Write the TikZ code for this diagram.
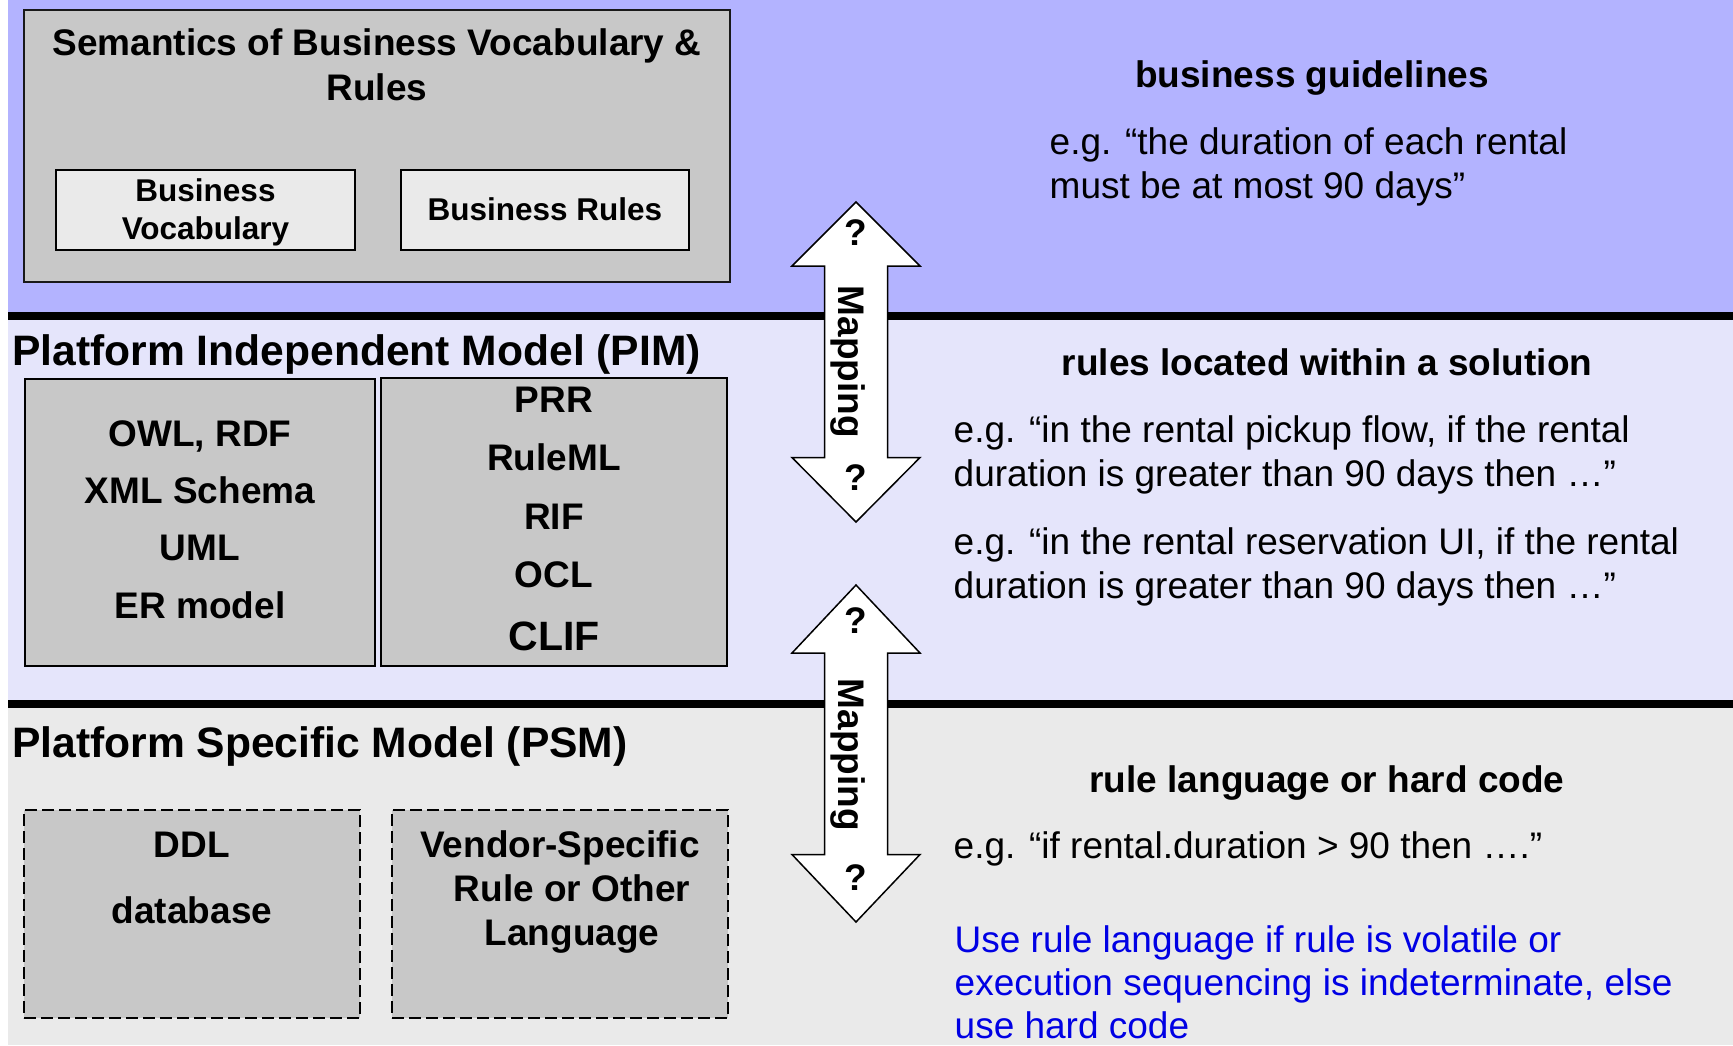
\documentclass[tikz,border=0pt]{standalone}
\usepackage{fontspec}
\setmainfont{Liberation Sans}
\definecolor{topband}{RGB}{179,179,255}
\definecolor{midband}{RGB}{229,229,251}
\definecolor{botband}{RGB}{234,234,234}
\definecolor{boxgrey}{RGB}{200,200,200}
\definecolor{boxlight}{RGB}{234,234,234}
\definecolor{advice}{RGB}{0,0,228}
\newcommand\mappingarrow[4]{% top tip, top head base, bottom head base, bottom tip
  \draw[arrowshape] (856,#1) -- (920,#2) -- (887.5,#2) -- (887.5,#3) -- (920,#3)
    -- (856,#4) -- (792,#3) -- (824.5,#3) -- (824.5,#2) -- (792,#2) -- cycle;}
% multi-line text nodes are placed by the baseline of their last line
\tikzset{
  greybox/.style={draw=black!90, line width=1.5pt, fill=boxgrey, inner sep=0pt},
  lightbox/.style={draw=black, line width=1.5pt, fill=boxlight, inner sep=0pt},
  dashbox/.style={draw=black, line width=1.5pt, fill=boxgrey, dash pattern=on 12pt off 5pt, inner sep=0pt},
  arrowshape/.style={draw=black, line width=1.5pt, fill=white, line join=miter},
  heading/.style={inner sep=0pt, anchor=base west, font=\fontsize{42.6}{50}\selectfont\bfseries},
  boldtext/.style={inner sep=0pt, anchor=base, align=center, font=\fontsize{37}{45}\selectfont\bfseries},
  plaintext/.style={inner sep=0pt, anchor=base west, align=left, font=\fontsize{37}{44}\selectfont},
  qmark/.style={inner sep=0pt, font=\fontsize{37}{44}\selectfont\bfseries},
  maplabel/.style={inner sep=0pt, rotate=-90, font=\fontsize{37}{44}\selectfont\bfseries}
}
\begin{document}
\begin{tikzpicture}[x=1pt,y=-1pt]
\useasboundingbox (0,0) rectangle (1733,1045);
\fill[white] (0,0) rectangle (1733,1045);

% the three layers and their separating rules
\fill[topband] (8,0) rectangle (1733,312);
\fill[midband] (8,320) rectangle (1733,700);
\fill[botband] (8,708) rectangle (1733,1045);
\fill[black] (8,312) rectangle (1733,320);
\fill[black] (8,700) rectangle (1733,708);

% business layer
\node[greybox, minimum width=706pt, minimum height=272pt] (sem) at (377,146) {};
\node[boldtext] (semtitle) at (377,100) {Semantics of Business Vocabulary \&\\Rules};
\node[lightbox, minimum width=299pt, minimum height=80pt] (vocab) at (205.5,210) {};
\node[lightbox, minimum width=288pt, minimum height=80pt] (rules) at (545,210) {};
\node[boldtext, font=\fontsize{31.5}{38}\selectfont\bfseries] (vocabtext) at (205.5,239.5) {Business\\Vocabulary};
\node[boldtext, font=\fontsize{31.5}{38}\selectfont\bfseries] (rulestext) at (545,220) {Business Rules};

\node[boldtext] (guidehead) at (1312,87) {business guidelines};
\node[plaintext] (guideex) at (1049.5,198) {e.g. “the duration of each rental\\must be at most 90 days”};

% platform independent layer
\node[heading] (pimhead) at (12,365) {Platform Independent Model (PIM)};
\node[greybox, draw=black, minimum width=350pt, minimum height=287pt] (pimleft) at (200,522.5) {};
\node[greybox, draw=black, minimum width=346pt, minimum height=288pt] (pimright) at (554,522) {};
\node[boldtext, font=\fontsize{37}{57.3}\selectfont\bfseries] (pimlefttext) at (200,618)
  {OWL, RDF\\XML Schema\\UML\\ER model};
\node[boldtext, font=\fontsize{37}{58.5}\selectfont\bfseries] (pimrighttext) at (554,650)
  {PRR\\RuleML\\RIF\\OCL\\[4pt]{\fontsize{41}{58.5}\selectfont CLIF}};

\node[boldtext] (solhead) at (1327,375) {rules located within a solution};
\node[plaintext] (solex1) at (953.5,486) {e.g. “in the rental pickup flow, if the rental\\duration is greater than 90 days then …”};
\node[plaintext] (solex2) at (953.5,598) {e.g. “in the rental reservation UI, if the rental\\duration is greater than 90 days then …”};

% platform specific layer
\node[heading] (psmhead) at (12,757) {Platform Specific Model (PSM)};
\node[dashbox, minimum width=336pt, minimum height=208pt] (psmleft) at (192,914) {};
\node[dashbox, minimum width=336pt, minimum height=208pt] (psmright) at (560,914) {};
\node[boldtext, font=\fontsize{37}{66}\selectfont\bfseries] (psmlefttext) at (192,923) {DDL\\database};
\node[boldtext, font=\fontsize{37}{44}\selectfont\bfseries] (psmrighttext) at (560,945)
  {Vendor-Specific\\\hspace*{24pt}Rule or Other\\\hspace*{24pt}Language};

\node[boldtext] (codehead) at (1327,792) {rule language or hard code};
\node[plaintext] (codeex) at (953.5,858) {e.g. “if rental.duration > 90 then ….”};
\node[plaintext, text=advice, font=\fontsize{37}{43}\selectfont] (advicetext) at (954.5,1038)
  {Use rule language if rule is volatile or\\execution sequencing is indeterminate, else\\use hard code};

% mapping arrows between the layers
\mappingarrow{202}{266}{457.5}{522}
\node[qmark] (q1a) at (856,233) {?};
\node[qmark] (q1b) at (856,478) {?};
\node[maplabel] (map1) at (848,362) {Mapping};

\mappingarrow{585}{653}{854.5}{922}
\node[qmark] (q2a) at (856,621) {?};
\node[qmark] (q2b) at (856,878) {?};
\node[maplabel] (map2) at (848,755) {Mapping};
\end{tikzpicture}
\end{document}
